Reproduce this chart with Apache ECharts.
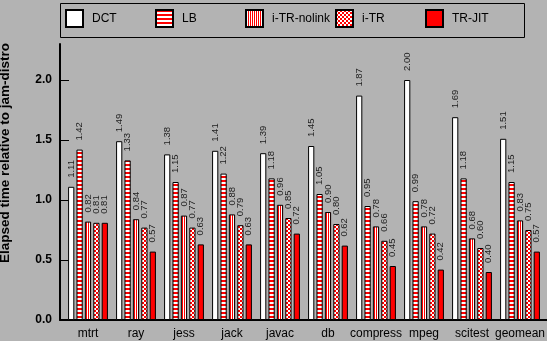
<!DOCTYPE html>
<html><head><meta charset="utf-8">
<script src="https://cdn.jsdelivr.net/npm/echarts@6/dist/echarts.min.js"></script>
<style>html,body{margin:0;padding:0;background:#b3b3b3}#c{width:547px;height:341px}</style>
</head><body><div id="c"></div>
<script>
var categories = ['mtrt','ray','jess','jack','javac','db','compress','mpeg','scitest','geomean'];
var seriesNames = ['DCT','LB','i-TR-nolink','i-TR','TR-JIT'];
var dct      = [1.11,1.49,1.38,1.41,1.39,1.45,1.87,2.00,1.69,1.51];
var lb       = [1.42,1.33,1.15,1.22,1.18,1.05,0.95,0.99,1.18,1.15];
var trNolink = [0.82,0.84,0.87,0.88,0.96,0.90,0.78,0.78,0.68,0.83];
var iTr      = [0.81,0.77,0.77,0.79,0.85,0.80,0.66,0.72,0.60,0.75];
var trJit    = [0.81,0.57,0.63,0.63,0.72,0.62,0.45,0.42,0.40,0.57];
var yTicks   = [0, 0.5, 1.0, 1.5, 2.0];
var yMax = 2.3;

function pattern(kind){
  var c = document.createElement('canvas');
  var ctx = c.getContext('2d');
  var R = '#ff0000', W = '#ffffff';
  if (kind === 'h') { c.width = 4; c.height = 4; ctx.fillStyle = W; ctx.fillRect(0,0,4,4); ctx.fillStyle = R; ctx.fillRect(0,0,4,2); }
  else if (kind === 'v') { c.width = 2; c.height = 2; ctx.fillStyle = W; ctx.fillRect(0,0,2,2); ctx.fillStyle = R; ctx.fillRect(0,0,1,2); }
  else if (kind === 'c') { c.width = 4; c.height = 4; ctx.fillStyle = W; ctx.fillRect(0,0,4,4); ctx.fillStyle = R; ctx.fillRect(0,0,2,2); ctx.fillRect(2,2,2,2); }
  return { image: c, repeat: 'repeat' };
}
var fills = ['#ffffff', pattern('h'), pattern('v'), pattern('c'), '#ff0000'];
var values = [dct, lb, trNolink, iTr, trJit];

var chart = echarts.init(document.getElementById('c'), null, {renderer: 'canvas'});
var series = seriesNames.map(function(n, i){
  return {
    name: n, type: 'bar', xAxisIndex: 0, yAxisIndex: 0,
    data: values[i],
    barCategoryGap: '17%', barGap: '35%',
    itemStyle: { color: fills[i], borderColor: '#000', borderWidth: 1 },
    label: {
      show: true, position: 'top', rotate: 90, align: 'left', verticalAlign: 'middle',
      distance: 9, fontFamily: 'Liberation Sans', fontSize: 9.5, color: '#222',
      formatter: function(p){ return p.value.toFixed(2); }
    }
  };
});

var legends = seriesNames.map(function(n, i){
  return {
    data: [n], left: 65 + 90 * i, top: 9, padding: 0,
    itemWidth: 17, itemHeight: 17, icon: 'rect', selectedMode: false,
    textStyle: { fontFamily: 'Liberation Sans', fontSize: 12, color: '#000', padding: [0,0,0,4] }
  };
});

chart.setOption({
  backgroundColor: '#b3b3b3',
  animation: false,
  textStyle: { fontFamily: 'Liberation Sans' },
  graphic: [{ type: 'rect', left: 58, top: 1, shape: { width: 464, height: 34 },
    style: { fill: 'none', stroke: '#000', lineWidth: 1 }, z: 0 }],
  legend: legends,
  grid: [
    { left: 64, right: 3, top: 44, bottom: 21, containLabel: false, outerBoundsMode: 'none' },
    { left: 60, right: 0, top: 44, bottom: 21, containLabel: false, outerBoundsMode: 'none' }
  ],
  xAxis: [
    { type: 'category', gridIndex: 0, data: categories,
      axisLine: { show: false }, axisTick: { show: false },
      axisLabel: { interval: 0, margin: 8, fontFamily: 'Liberation Sans', fontSize: 12, color: '#000' } },
    { type: 'value', gridIndex: 1, min: 0, max: 1,
      axisLine: { show: true, lineStyle: { color: '#000', width: 2 } },
      axisTick: { show: false }, axisLabel: { show: false }, splitLine: { show: false } }
  ],
  yAxis: [
    { type: 'value', gridIndex: 0, min: 0, max: yMax, show: false, splitLine: { show: false } },
    { type: 'value', gridIndex: 1, min: 0, max: yMax, interval: 0.5,
      name: 'Elapsed time relative to jam-distro', nameLocation: 'middle', nameGap: 48,
      nameTextStyle: { fontFamily: 'Liberation Sans', fontSize: 13.5, fontWeight: 'bold', color: '#000', padding: [0,0,0,58] },
      axisLine: { show: true, lineStyle: { color: '#000', width: 2 } },
      axisTick: { show: true, inside: true, length: 9, lineStyle: { color: '#000', width: 1 }, customValues: yTicks },
      axisLabel: { margin: 8, fontFamily: 'Liberation Sans', fontSize: 12, fontWeight: 'bold', color: '#000',
        customValues: yTicks, formatter: function(v){ return v.toFixed(1); } },
      splitLine: { show: false } }
  ],
  series: series
});
</script></body></html>
